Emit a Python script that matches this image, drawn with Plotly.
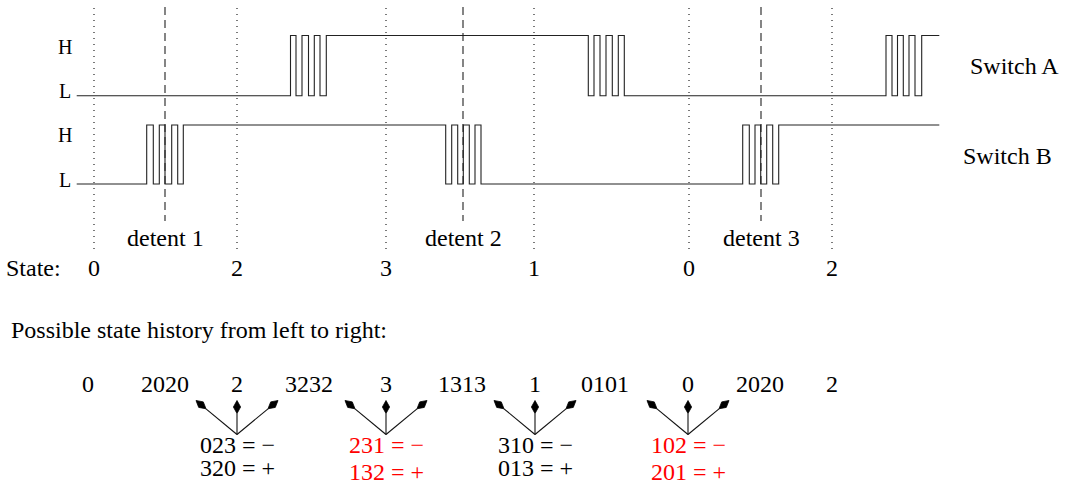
import numpy as np
import plotly.graph_objects as go

FONT = "Liberation Serif"
W, H = 1065, 485

# ---- data ----------------------------------------------------------------
t_start, t_end = 76.7, 939.3
switch_a_edges = [290.5, 296.0, 302.0, 308.5, 314.3, 320.0, 326.3,
                  588.3, 594.0, 600.0, 606.0, 612.3, 618.3, 624.3,
                  886.0, 892.0, 897.5, 903.3, 909.0, 915.0, 921.7]
switch_b_edges = [146.7, 153.3, 159.3, 165.0, 171.7, 177.7, 183.3,
                  445.7, 451.7, 457.7, 463.3, 469.3, 475.0, 481.0,
                  742.7, 749.3, 755.0, 760.7, 766.7, 772.7, 778.7]
switch_names = ["Switch A", "Switch B"]

state_x = [94, 237, 386, 534, 689, 832]
state_labels = ["0", "2", "3", "1", "0", "2"]
detent_x = [165, 463, 761]
detent_labels = ["detent 1", "detent 2", "detent 3"]

history_labels = ["0", "2020", "2", "3232", "3", "1313", "1", "0101", "0", "2020", "2"]
history_x = [88, 165, 237, 309, 386, 462, 535, 605, 688, 760, 832]

group_x = [237, 386, 535, 688]
group_minus = ["023 = \u2212", "231 = \u2212", "310 = \u2212", "102 = \u2212"]
group_plus = ["320 = +", "132 = +", "013 = +", "201 = +"]
group_colors = ["black", "red", "black", "red"]

# ---- layout constants ----------------------------------------------------
a_low, a_high = 95.7, 35.5
b_low, b_high = 184.0, 125.0
sig_color = "#222222"
FS = 24

fig = go.Figure()


def step(edges, low, high):
    xs = [t_start]
    ys = [low]
    state = False
    for e in edges:
        state = not state
        xs.append(e)
        ys.append(high if state else low)
    xs.append(t_end)
    ys.append(ys[-1])
    return xs, ys


for edges, lo, hi in [(switch_a_edges, a_low, a_high), (switch_b_edges, b_low, b_high)]:
    xs, ys = step(edges, lo, hi)
    fig.add_trace(go.Scatter(x=xs, y=ys, mode="lines", line=dict(color=sig_color, width=1.1, shape="hv"),
                             hoverinfo="skip", showlegend=False))

# dotted state lines
dx, dy = [], []
for x in state_x:
    dx += [x, x, None]
    dy += [8, 249, None]
fig.add_trace(go.Scatter(x=dx, y=dy, mode="lines", line=dict(color="#333", width=1.3, dash="1px,5px"),
                         hoverinfo="skip", showlegend=False))
# dashed detent lines
dx, dy = [], []
for x in detent_x:
    dx += [x, x, None]
    dy += [7, 221, None]
fig.add_trace(go.Scatter(x=dx, y=dy, mode="lines", line=dict(color="#222", width=1.1, dash="8px,5px"),
                         hoverinfo="skip", showlegend=False))

ann = []


def text(x, y, s, size=FS, color="black", xanchor="center"):
    ann.append(dict(x=x, y=y, text=s, showarrow=False, xanchor=xanchor, yanchor="middle",
                    font=dict(family=FONT, size=size, color=color), xref="x", yref="y"))


# H / L labels
for yh, yl in [(47, 91), (135, 180)]:
    text(65, yh, "H", size=20)
    text(65, yl, "L", size=20)

text(1014, 66, switch_names[0])
text(1007, 156, switch_names[1])

for x, s in zip(detent_x, detent_labels):
    text(x, 238, s)
text(4, 268, "State:", xanchor="left")
for x, s in zip(state_x, state_labels):
    text(x, 268, s)

text(9, 330, "Possible state history from left to right:", xanchor="left")
for x, s in zip(history_x, history_labels):
    text(x, 384, s)

# arrows
apex_y, tip_y, spread = 434.5, 400.5, 41
hx, hy = [], []
sx, sy = [], []
head_len, head_w = 13.0, 3.6
for gx, minus, plus, col in zip(group_x, group_minus, group_plus, group_colors):
    for off in (-spread, 0, spread):
        ax_, ay_ = gx, apex_y
        tx, ty = gx + off, tip_y
        d = np.array([tx - ax_, ty - ay_], dtype=float)
        d /= np.linalg.norm(d)
        n = np.array([-d[1], d[0]])
        tip = np.array([tx, ty])
        back = tip - d * head_len
        mid = tip - d * head_len * 0.5
        p1 = mid + n * head_w
        p2 = mid - n * head_w
        sx += [ax_, back[0], None]
        sy += [ay_, back[1], None]
        hx += [tip[0], p1[0], back[0], p2[0], tip[0], None]
        hy += [tip[1], p1[1], back[1], p2[1], tip[1], None]
    text(gx, 445, minus, color=col)
    text(gx, 468 if col == "black" else 472, plus, color=col)

fig.add_trace(go.Scatter(x=sx, y=sy, mode="lines", line=dict(color="#111", width=1.1),
                         hoverinfo="skip", showlegend=False))
fig.add_trace(go.Scatter(x=hx, y=hy, mode="lines", fill="toself", fillcolor="black",
                         line=dict(color="black", width=0.8), hoverinfo="skip", showlegend=False))

fig.update_layout(
    width=W, height=H, margin=dict(l=0, r=0, t=0, b=0),
    paper_bgcolor="white", plot_bgcolor="white",
    xaxis=dict(range=[0, W], visible=False, fixedrange=True),
    yaxis=dict(range=[H, 0], visible=False, fixedrange=True),
    annotations=ann, showlegend=False,
)

fig.write_html("out.html", config=dict(displayModeBar=False),
               post_script="document.body.style.margin='0px';document.body.style.overflow='hidden';")
